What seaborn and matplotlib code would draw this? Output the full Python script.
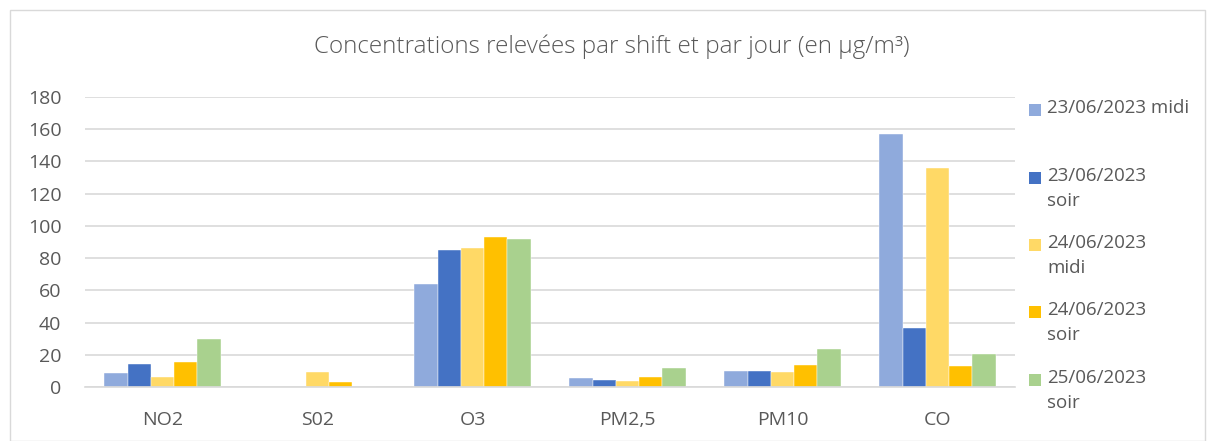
import numpy as np
import pandas as pd
import matplotlib
matplotlib.use("Agg")
import matplotlib.pyplot as plt
import seaborn as sns
from matplotlib.patches import Rectangle

polluants = ["NO2", "S02", "O3", "PM2,5", "PM10", "CO"]
series = ["23/06/2023 midi", "23/06/2023 soir", "24/06/2023 midi",
          "24/06/2023 soir", "25/06/2023 soir"]
v_2306_midi = [9, 0, 64, 5.6, 9.7, 157]
v_2306_soir = [14, 0, 85, 4.3, 9.7, 36.5]
v_2406_midi = [6.5, 9.3, 86.5, 3.7, 9.1, 136]
v_2406_soir = [15.3, 3.3, 93, 6.2, 13.7, 13]
v_2506_soir = [29.5, 0, 92, 12, 23.5, 20.5]
couleurs = ["#8FAADC", "#4472C4", "#FFD966", "#FFC000", "#A9D18E"]

valeurs = [v_2306_midi, v_2306_soir, v_2406_midi, v_2406_soir, v_2506_soir]
rows = []
for s, vals in zip(series, valeurs):
    for p, v in zip(polluants, vals):
        rows.append({"polluant": p, "serie": s, "valeur": v})
df = pd.DataFrame(rows)

sns.set_style("white")
plt.rcParams["font.family"] = ["Open Sans", "DejaVu Sans"]

fig = plt.figure(figsize=(12.15, 4.41), dpi=100)
ax = fig.add_axes([85 / 1215, 1 - 387 / 441, 930 / 1215, 290 / 441])

sns.barplot(data=df, x="polluant", y="valeur", hue="serie", order=polluants,
            hue_order=series, palette=couleurs, width=0.75, gap=0,
            edgecolor="white", linewidth=0.3, saturation=1, ax=ax, legend=False)

ax.set_ylim(0, 180)
ax.set_yticks(np.arange(0, 181, 20))
ax.yaxis.grid(True, color="#D9D9D9", linewidth=1.2)
ax.set_axisbelow(True)
for sp in ["top", "right", "left"]:
    ax.spines[sp].set_visible(False)
ax.spines["bottom"].set_color("#D9D9D9")
ax.spines["bottom"].set_linewidth(1.2)
ax.tick_params(axis="both", length=0, labelsize=14, colors="#595959")
ax.tick_params(axis="x", pad=17)
ax.tick_params(axis="y", pad=17)
ax.set_xlabel("")
ax.set_ylabel("")

fig.text(612 / 1215, 1 - 47 / 441,
         "Concentrations relevées par shift et par jour (en µg/m³)",
         ha="center", va="center", fontsize=17.5, color="#595959",
         fontweight="light")

# légende à droite
y_pos = [110, 178, 245, 312, 380]
for s, c, yp in zip(series, couleurs, y_pos):
    fig.patches.append(Rectangle((1029 / 1215, 1 - (yp + 6) / 441), 12 / 1215, 12 / 441,
                                 transform=fig.transFigure, facecolor=c, edgecolor="none"))
    label = s if s == series[0] else s.replace(" ", "\n")
    fig.text(1047 / 1215, 1 - (yp - 11) / 441, label, ha="left", va="top",
             fontsize=13.5, color="#595959", linespacing=1.5)

fig.patches.append(Rectangle((10 / 1215, 0), 1195 / 1215, 1 - 10 / 441,
                             transform=fig.transFigure, facecolor="none",
                             edgecolor="#D9D9D9", linewidth=1))

fig.savefig("out.png", dpi=100)
